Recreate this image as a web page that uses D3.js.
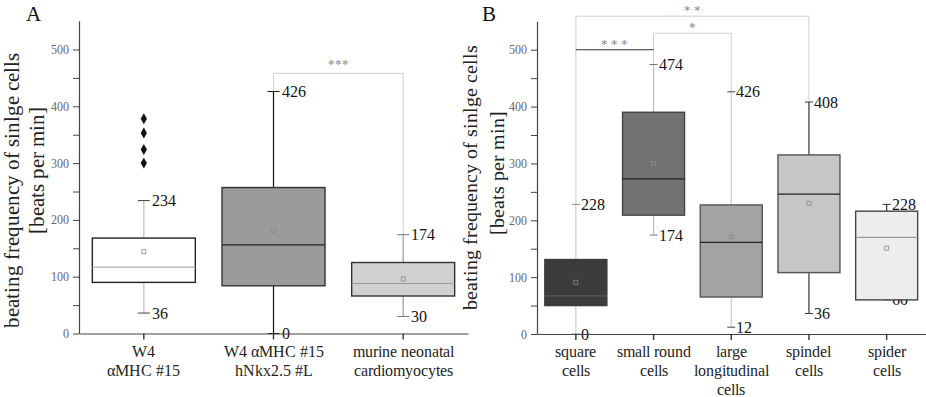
<!DOCTYPE html>
<html><head><meta charset="utf-8">
<script src="https://cdn.jsdelivr.net/npm/d3@7"></script>
<style>
@font-face { font-family: "ChartSerif"; src: local("Liberation Serif"), local("LiberationSerif"), local("Times New Roman"); }
body{margin:0;background:#fff}
svg text{font-family:"ChartSerif","Liberation Serif",serif}
</style>
</head><body>
<svg id="c" width="926" height="397"></svg>
<script>
// ---------- data ----------
const catsA = [["W4","αMHC #15"],["W4 αMHC #15","hNkx2.5 #L"],["murine neonatal","cardiomyocytes"]];
const q1A   = [90, 84, 66];
const medA  = [117, 156, 88];
const q3A   = [168, 257, 125];
const meanA = [144, 181, 96];
const loA   = [36, 0, 30];
const hiA   = [234, 426, 174];
const outliersA = [[300, 324, 353, 378], [], []];

const catsB = [["square","cells"],["small round","cells"],["large","longitudinal","cells"],["spindel","cells"],["spider","cells"]];
const q1B   = [50, 209, 65, 108, 60];
const medB  = [67, 273, 161, 246, 170];
const q3B   = [131, 390, 227, 315, 216];
const meanB = [91, 300, 171, 230, 151];
const loB   = [0, 174, 12, 36, 60];
const hiB   = [228, 474, 426, 408, 228];
const outliersB = [[], [], [], [], []];

const yTickValues = [0, 50, 100, 150, 200, 250, 300, 350, 400, 450, 500];
const yTickLabels = ["0", "", "100", "", "200", "", "300", "", "400", "", "500"];

const sigA = [{from: 1, to: 2, level: 458, label: "***"}];
const sigB = [
  {from: 0, to: 3, level: 559, label: "* *"},
  {from: 1, to: 2, level: 529, label: "*"},
  {from: 0, to: 1, level: 500, label: "* * *"}
];

// ---------- styles ----------
const styleA = {
  fill:    ["#ffffff", "#9b9b9b", "#d0d0d0"],
  stroke:  ["#222222", "#333333", "#333333"],
  median:  ["#aaaaaa", "#222222", "#9a9a9a"],
  whisker: ["#bdbdbd", "#111111", "#9a9a9a"],
  cap:     ["#444444", "#111111", "#777777"]
};
const styleB = {
  fill:    ["#3c3c3a", "#727270", "#a3a3a3", "#c6c6c4", "#ededed"],
  stroke:  ["#3a3a3a", "#444444", "#555555", "#555555", "#444444"],
  median:  ["#5a5a58", "#222222", "#222222", "#222222", "#9a9a9a"],
  whisker: ["#cccccc", "#bbbbbb", "#cccccc", "#333333", "#333333"],
  cap:     ["#888888", "#777777", "#444444", "#333333", "#333333"]
};

const svg = d3.select("#c");

function drawPanel(o) {
  const g = svg.append("g");
  const x = d3.scaleBand().domain(d3.range(o.cats.length)).range([o.left, o.right]).padding(0);
  const y = d3.scaleLinear().domain([0, 550]).range([o.y0, o.yTop]);
  const cx = i => x(i) + x.bandwidth() / 2;

  // significance brackets
  o.sig.forEach(s => {
    const yl = y(s.level);
    const dark = s.label === "* * *";
    g.append("line").attr("x1", cx(s.from)).attr("x2", cx(s.to)).attr("y1", yl).attr("y2", yl)
      .attr("stroke", dark ? "#333" : "#cfcfcf").attr("stroke-width", 1);
    if (!dark) {
      [s.from, s.to].forEach(i => {
        g.append("line").attr("x1", cx(i)).attr("x2", cx(i))
          .attr("y1", yl).attr("y2", y(o.hi[i]))
          .attr("stroke", "#cfcfcf").attr("stroke-width", 1);
      });
    }
    g.append("text").attr("x", (cx(s.from) + cx(s.to)) / 2).attr("y", yl - o.starDy)
      .attr("text-anchor", "middle").attr("font-size", 13).attr("fill", "#777")
      .text(s.label);
  });

  // whiskers
  o.cats.forEach((c, i) => {
    g.append("line").attr("x1", cx(i)).attr("x2", cx(i))
      .attr("y1", y(o.lo[i])).attr("y2", y(o.hi[i]))
      .attr("stroke", o.style.whisker[i]).attr("stroke-width", 1.2);
    [o.lo[i], o.hi[i]].forEach(v => {
      g.append("line").attr("x1", cx(i) - o.cap).attr("x2", cx(i) + o.cap)
        .attr("y1", y(v)).attr("y2", y(v)).attr("stroke", o.style.cap[i])
        .attr("stroke-width", 1);
      g.append("text").attr("x", cx(i) + o.labelDx).attr("y", y(v) + 5.5)
        .attr("font-size", 16).attr("fill", "#111")
        .text(v);
    });
  });

  // boxes
  o.cats.forEach((c, i) => {
    const bx = cx(i) - o.boxW / 2;
    g.append("rect").attr("x", bx).attr("y", y(o.q3[i]))
      .attr("width", o.boxW).attr("height", y(o.q1[i]) - y(o.q3[i]))
      .attr("fill", o.style.fill[i]).attr("stroke", o.style.stroke[i]).attr("stroke-width", 1.4);
    g.append("line").attr("x1", bx).attr("x2", bx + o.boxW)
      .attr("y1", y(o.med[i])).attr("y2", y(o.med[i]))
      .attr("stroke", o.style.median[i]).attr("stroke-width", 1.2);
    g.append("rect").attr("x", cx(i) - 2).attr("y", y(o.mean[i]) - 2)
      .attr("width", 4).attr("height", 4).attr("fill", "none")
      .attr("stroke", "#8a8a8a").attr("stroke-width", 0.8);
    o.out[i].forEach(v => {
      g.append("path").attr("d", d3.symbol(d3.symbolDiamond, 34)())
        .attr("transform", `translate(${cx(i)},${y(v)})`).attr("fill", "#111");
    });
  });

  // y axis
  const ya = d3.axisLeft(y).tickValues(yTickValues).tickSize(6).tickSizeOuter(0).tickPadding(4)
    .tickFormat((d, k) => yTickLabels[k]);
  const yg = g.append("g").attr("transform", `translate(${o.left},0)`).call(ya);
  yg.attr("font-family", null);
  yg.select(".domain").attr("stroke", "#444").attr("stroke-width", 1.2);
  yg.selectAll(".tick line").attr("stroke", "#444");
  yg.selectAll(".tick text").attr("dy", null).attr("y", 4)
    .attr("font-size", 11.5).attr("fill", "#666");

  // x axis
  const xa = d3.axisBottom(x).tickSize(6).tickSizeOuter(0).tickFormat("");
  const xg = g.append("g").attr("transform", `translate(0,${o.y0})`).call(xa);
  xg.attr("font-family", null);
  xg.selectAll(".tick text").remove();
  xg.select(".domain").attr("stroke", "#444").attr("stroke-width", 1.2);
  xg.selectAll(".tick line").attr("stroke", "#333").attr("stroke-width", 1.4);

  // category labels
  o.cats.forEach((c, i) => {
    c.forEach((line, k) => {
      g.append("text").attr("x", cx(i)).attr("y", o.y0 + 23 + k * 19)
        .attr("text-anchor", "middle").attr("font-size", 16).attr("fill", "#222").text(line);
    });
  });

  // y title
  o.title.forEach((line, k) => {
    g.append("text")
      .attr("transform", `translate(${o.titleX[k] + o.titleSize * 0.35},${o.titleY[k]}) rotate(-90)`)
      .attr("text-anchor", "middle")
      .attr("font-size", o.titleSize).attr("fill", "#222").text(line);
  });

  // panel letter
  g.append("text").attr("x", o.letterX).attr("y", 21).attr("font-size", 21).attr("fill", "#111").text(o.letter);
}

drawPanel({
  cats: catsA, q1: q1A, med: medA, q3: q3A, mean: meanA, lo: loA, hi: hiA, out: outliersA,
  sig: sigA, style: styleA, left: 79, right: 468, y0: 333.5, yTop: 21.1, boxW: 103, cap: 6, labelDx: 8, starDy: 4,
  title: ["beating frequency of sinlge cells", "[beats per min]"], titleX: [12, 37], titleY: [190, 170], titleSize: 21,
  letter: "A", letterX: 26
});
drawPanel({
  cats: catsB, q1: q1B, med: medB, q3: q3B, mean: meanB, lo: loB, hi: hiB, out: outliersB,
  sig: sigB, style: styleB, left: 537, right: 925.5, y0: 334, yTop: 21.3, boxW: 62, cap: 4, labelDx: 5, starDy: 1,
  title: ["beating frequency of sinlge cells", "[beats per min]"], titleX: [470, 497], titleY: [177, 173], titleSize: 19.5,
  letter: "B", letterX: 482
});
</script>
</body></html>
